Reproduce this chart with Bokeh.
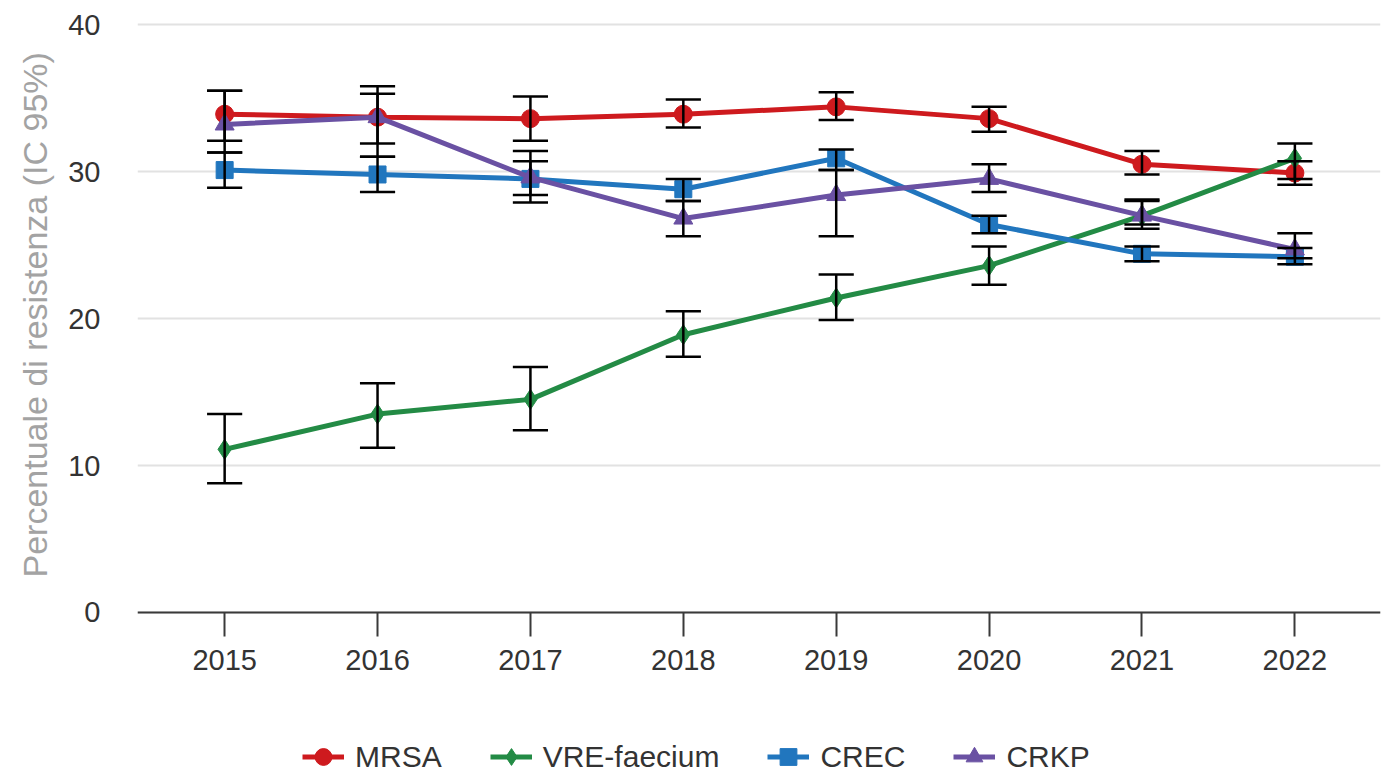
from bokeh.plotting import figure
from bokeh.models import Range1d, FixedTicker, Legend, LegendItem, ColumnDataSource, Title
from bokeh.embed import file_html
from bokeh.resources import INLINE

years = ["2015", "2016", "2017", "2018", "2019", "2020", "2021", "2022"]

mrsa = [33.9, 33.7, 33.6, 33.9, 34.4, 33.6, 30.5, 29.9]
mrsa_lo = [32.1, 31.9, 32.1, 33.0, 33.5, 32.7, 29.8, 29.1]
mrsa_hi = [35.5, 35.3, 35.1, 34.9, 35.4, 34.4, 31.4, 30.7]

vre = [11.1, 13.5, 14.5, 18.9, 21.4, 23.6, 27.0, 30.9]
vre_lo = [8.8, 11.2, 12.4, 17.4, 19.9, 22.3, 26.1, 29.5]
vre_hi = [13.5, 15.6, 16.7, 20.5, 23.0, 24.9, 28.0, 31.9]

crec = [30.1, 29.8, 29.5, 28.8, 30.9, 26.4, 24.4, 24.2]
crec_lo = [28.9, 28.6, 28.4, 28.0, 30.1, 25.8, 23.9, 23.7]
crec_hi = [31.3, 31.0, 30.7, 29.5, 31.5, 27.0, 24.9, 24.8]

crkp = [33.2, 33.7, 29.6, 26.8, 28.4, 29.5, 27.0, 24.7]
crkp_lo = [31.3, 31.0, 27.9, 25.6, 25.6, 28.6, 26.4, 24.1]
crkp_hi = [35.5, 35.8, 31.4, 28.0, 30.1, 30.5, 28.1, 25.8]

y_ticks = [0, 10, 20, 30, 40]
y_title = "Percentuale di resistenza (IC 95%)"

FONT = "Liberation Sans"

series = [
    ("MRSA", mrsa, mrsa_lo, mrsa_hi, "#ce1a1e", "circle", 18),
    ("VRE-faecium", vre, vre_lo, vre_hi, "#238b45", "diamond", 20),
    ("CREC", crec, crec_lo, crec_hi, "#2176be", "square", 17),
    ("CRKP", crkp, crkp_lo, crkp_hi, "#6a51a3", "triangle", 19),
]

xs = list(range(len(years)))

# frame spans from just above the top gridline down to the bottom of the picture;
# the x axis is pinned at y = 0 and the space below holds the labels and legend
p = figure(width=1393, height=775, output_backend="svg", toolbar_location=None,
           x_range=Range1d(-0.57, 7.56), y_range=Range1d(-11.09, 40.14),
           min_border_left=137, min_border_right=13, min_border_top=22,
           min_border_bottom=0)
p.outline_line_color = None
p.background_fill_color = "white"
p.border_fill_color = "white"

# grid
p.xgrid.grid_line_color = None
p.ygrid.grid_line_color = "#e2e2e2"
p.ygrid.grid_line_width = 2

# x axis
p.xaxis.fixed_location = 0
p.xaxis.ticker = FixedTicker(ticks=xs)
p.xaxis.major_label_overrides = {i: y for i, y in enumerate(years)}
p.xaxis.axis_line_color = "#3a3a3a"
p.xaxis.axis_line_width = 2
p.xaxis.major_tick_line_color = "#3a3a3a"
p.xaxis.major_tick_line_width = 2
p.xaxis.major_tick_out = 24
p.xaxis.major_tick_in = 0
p.xaxis.minor_tick_line_color = None
p.xaxis.major_label_text_font = FONT
p.xaxis.major_label_text_font_size = "29px"
p.xaxis.major_label_text_color = "#333333"
p.xaxis.major_label_standoff = 14

# y axis
p.yaxis.ticker = FixedTicker(ticks=y_ticks)
p.yaxis.axis_line_color = None
p.yaxis.major_tick_line_color = None
p.yaxis.minor_tick_line_color = None
p.yaxis.major_tick_out = 0
p.yaxis.major_tick_in = 0
p.yaxis.major_label_text_font = FONT
p.yaxis.major_label_text_font_size = "29px"
p.yaxis.major_label_text_color = "#333333"
p.yaxis.major_label_standoff = 37

# y title, placed along the part of the frame above the x axis
p.add_layout(Title(text=y_title, align="left", vertical_align="bottom",
                   offset=198, standoff=24, text_font=FONT,
                   text_font_size="34px", text_font_style="normal",
                   text_color="#a3a3a3"), "left")

items = []
for name, vals, lo, hi, color, marker, size in series:
    src = ColumnDataSource(dict(x=xs, y=vals))
    ln = p.line("x", "y", source=src, line_color=color, line_width=5)
    sc = p.scatter("x", "y", source=src, marker=marker, size=size,
                   fill_color=color, line_color=color)
    items.append(LegendItem(label=name, renderers=[ln, sc]))

cap = 0.115
for name, vals, lo, hi, color, marker, size in series:
    p.segment(x0=xs, y0=lo, x1=xs, y1=hi, line_color="black", line_width=2.5)
    p.segment(x0=[x - cap for x in xs], y0=hi, x1=[x + cap for x in xs], y1=hi,
              line_color="black", line_width=2.5)
    p.segment(x0=[x - cap for x in xs], y0=lo, x1=[x + cap for x in xs], y1=lo,
              line_color="black", line_width=2.5)

legend = Legend(items=items, orientation="horizontal", location=(165, -4),
                padding=0, margin=0, spacing=48, label_standoff=11,
                glyph_width=42, glyph_height=45,
                label_text_font=FONT, label_text_font_size="30px",
                label_text_color="#333333", border_line_color=None,
                background_fill_alpha=0)
p.add_layout(legend, "center")

open("out.html", "w").write(file_html(p, INLINE))
